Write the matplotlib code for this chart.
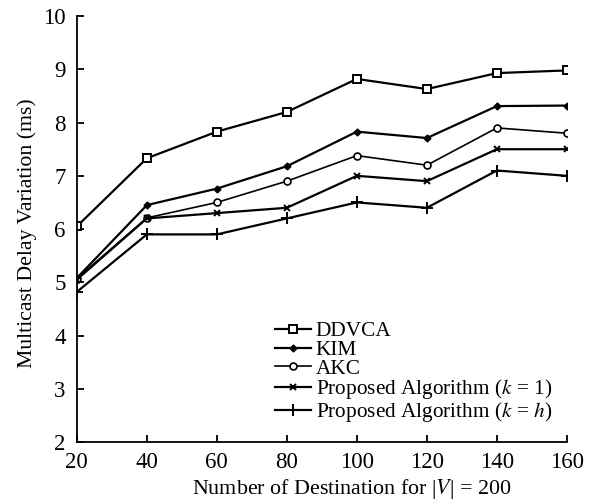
import numpy as np
import matplotlib.pyplot as plt

plt.rcParams['font.family'] = ['Liberation Serif', 'DejaVu Serif']
plt.rcParams['mathtext.fontset'] = 'stix'

# number of destinations
destinations = [20, 40, 60, 80, 100, 120, 140, 160]

# multicast delay variation (ms)
ddvca = [6.05, 7.33, 7.83, 8.20, 8.82, 8.63, 8.93, 8.98]
kim = [5.08, 6.45, 6.76, 7.18, 7.83, 7.71, 8.31, 8.32]
akc = [5.07, 6.21, 6.50, 6.90, 7.38, 7.20, 7.90, 7.80]
prop_k1 = [5.05, 6.20, 6.30, 6.40, 7.00, 6.90, 7.50, 7.50]
prop_kh = [4.82, 5.90, 5.90, 6.20, 6.50, 6.40, 7.10, 7.00]

labels = ['DDVCA', 'KIM', 'AKC',
          'Proposed Algorithm ($k$ = 1)',
          'Proposed Algorithm ($k$ = $h$)']
y_ticks = [2, 3, 4, 5, 6, 7, 8, 9, 10]

fig = plt.figure(figsize=(6.05, 5.04), dpi=100)
ax = fig.add_axes([0.127, 0.123, 0.81, 0.845])

ax.plot(destinations, ddvca, color='black', lw=1.6, marker='s', ms=6,
        mfc='white', mec='black', mew=1.4, label=labels[0])
ax.plot(destinations, kim, color='black', lw=1.6, marker='D', ms=3.5,
        mfc='black', mec='black', label=labels[1])
ax.plot(destinations, akc, color='black', lw=1.2, marker='o', ms=5,
        mfc='white', mec='black', mew=1.2, label=labels[2])
ax.plot(destinations, prop_k1, color='black', lw=1.6, marker='x', ms=5,
        mew=1.4, label=labels[3])
ax.plot(destinations, prop_kh, color='black', lw=1.6, marker='+', ms=8,
        mew=1.4, label=labels[4])

ax.set_xlim(20, 160)
ax.set_ylim(2, 10)
ax.set_xticks(destinations)
ax.set_yticks(y_ticks)
ax.spines['top'].set_visible(False)
ax.spines['right'].set_visible(False)
ax.spines['left'].set_linewidth(1.3)
ax.spines['bottom'].set_linewidth(1.3)
ax.tick_params(direction='in', length=5, width=1.3, labelsize=16.5)
ax.tick_params(axis='y', pad=8)
ax.tick_params(axis='x', pad=7)

ax.set_xlabel('Number of Destination for |$V$| = 200', fontsize=15.8)
ax.xaxis.set_label_coords(0.561, -0.083)
ax.set_ylabel('Multicast Delay Variation (ms)', fontsize=15.7)
ax.yaxis.set_label_coords(-0.082, 0.49)

ax.legend(loc='upper left', bbox_to_anchor=(0.455, 0.362),
          bbox_transform=fig.transFigure, frameon=False, fontsize=15.3,
          handlelength=1.7, handletextpad=0.2, labelspacing=-0.06,
          borderpad=0, borderaxespad=0)

fig.savefig('out.png', dpi=100)
